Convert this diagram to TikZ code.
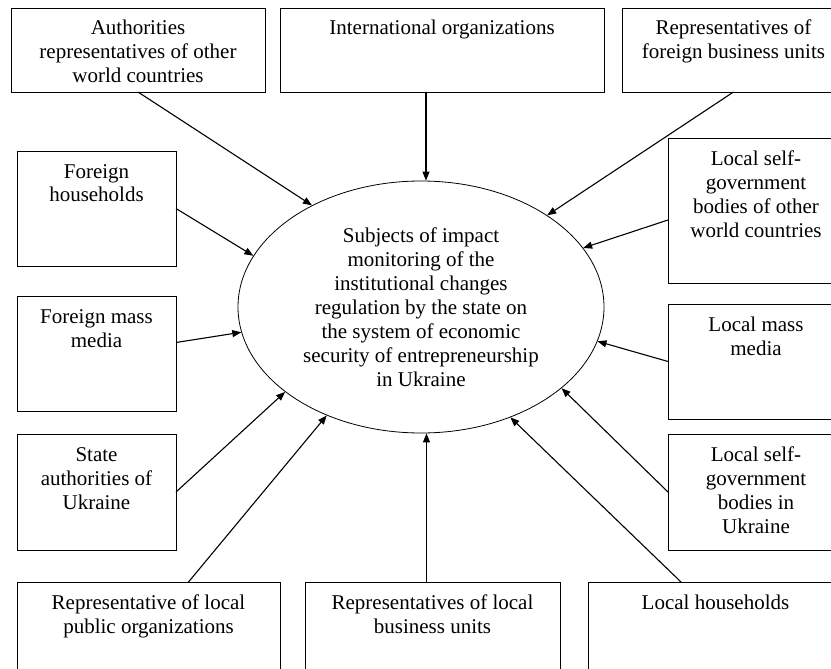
\documentclass[tikz,border=0pt]{standalone}
\usepackage{fontspec}
\setmainfont{Liberation Serif}
\usetikzlibrary{shapes.geometric,arrows.meta}

\tikzset{
	unit/.style={draw, line width=0.8pt, inner sep=0pt, outer sep=0pt, anchor=north west},
	subject/.style={draw, ellipse, line width=0.8pt, minimum width=366pt, minimum height=252pt, inner sep=0pt, align=center},
	impact/.style={-{Triangle[length=9pt,width=7pt]}, line width=1.1pt},
}
\newcommand{\unittext}[3]{\parbox[t][#2][t]{#1}{\centering\rule{0pt}{27pt}#3}}

\begin{document}
\begin{tikzpicture}[x=1pt, y=-1pt, font=\fontsize{21}{24}\selectfont]
	\useasboundingbox (0,0) rectangle (831,669);
	\clip (0,0) rectangle (831,669);

	\node[subject]	(subj)	at (421,307)	{Subjects of impact\\ monitoring of the\\ institutional changes\\ regulation by the state on\\ the system of economic\\ security of entrepreneurship\\ in Ukraine};

	\node[unit]	(auth)	at (11,8)	{\unittext{254pt}{84pt}{Authorities\\ representatives of other\\ world countries}};
	\node[unit]	(intl)	at (280,8)	{\unittext{324pt}{84pt}{International organizations}};
	\node[unit]	(rfb)	at (622,8)	{\unittext{223pt}{84pt}{Representatives of\\ foreign business units}};

	\node[unit]	(fh)	at (17,151)	{\unittext{159pt}{115pt}{Foreign\\ households}};
	\node[unit]	(fmm)	at (17,296)	{\unittext{159pt}{115pt}{Foreign mass\\ media}};
	\node[unit]	(sa)	at (17,434)	{\unittext{159pt}{116pt}{State\\ authorities of\\ Ukraine}};

	\node[unit]	(lsgo)	at (668,138)	{\unittext{176pt}{145pt}{Local self-\\ government\\ bodies of other\\ world countries}};
	\node[unit]	(lmm)	at (668,304)	{\unittext{176pt}{115pt}{Local mass\\ media}};
	\node[unit]	(lsgu)	at (668,434)	{\unittext{176pt}{116pt}{Local self-\\ government\\ bodies in\\ Ukraine}};

	\node[unit]	(rpo)	at (17,582)	{\unittext{263pt}{110pt}{Representative of local\\ public organizations}};
	\node[unit]	(rlb)	at (305,582)	{\unittext{255pt}{110pt}{Representatives of local\\ business units}};
	\node[unit]	(lh)	at (588,582)	{\unittext{255pt}{110pt}{Local households}};

	\draw[impact]	(auth.south)	--	(subj.137.9);
	\draw[impact]	([xshift=-16pt]intl.south)	--	([xshift=-16pt]intl.south |- subj.north);
	\draw[impact]	(rfb.south)	--	(subj.36.1);
	\draw[impact]	([yshift=-9.5pt]lsgo.west)	--	(subj.20.4);
	\draw[impact]	(lmm.west)	--	(subj.-11.5);
	\draw[impact]	(lsgu.west)	--	(subj.-30.5);
	\draw[impact]	([xshift=93pt]lh.north west)	--	(subj.-51.6);
	\draw[impact]	([xshift=-6pt]rlb.north)	--	([xshift=-6pt]rlb.north |- subj.south);
	\draw[impact]	([xshift=40pt]rpo.north)	--	(subj.-131.9);
	\draw[impact]	(sa.east)	--	(subj.-148.9);
	\draw[impact]	([yshift=11pt]fmm.east)	--	(subj.-172.6);
	\draw[impact]	(fh.east)	--	(subj.163.3);

\end{tikzpicture}
\end{document}
